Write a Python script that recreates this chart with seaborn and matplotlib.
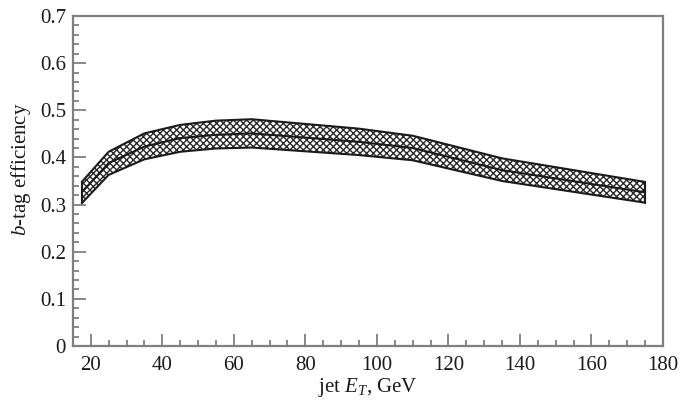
import matplotlib
matplotlib.use("Agg")
import matplotlib.pyplot as plt
from matplotlib.ticker import MultipleLocator, FuncFormatter
import numpy as np
import pandas as pd
import seaborn as sns

# Jet transverse energy (GeV) and b-tag efficiency band
jet_et = [17.5, 25, 35, 45, 55, 65, 80, 95, 110, 135, 175]
eff_central = [0.326, 0.388, 0.423, 0.441, 0.448, 0.451, 0.442, 0.433, 0.420, 0.373, 0.326]
eff_upper = [0.348, 0.412, 0.451, 0.469, 0.478, 0.481, 0.471, 0.461, 0.446, 0.398, 0.348]
eff_lower = [0.303, 0.363, 0.396, 0.412, 0.419, 0.421, 0.413, 0.405, 0.394, 0.350, 0.304]

x_ticks = [20, 40, 60, 80, 100, 120, 140, 160, 180]
y_ticks = [0, 0.1, 0.2, 0.3, 0.4, 0.5, 0.6, 0.7]

sns.set_theme(style="ticks")
plt.rcParams["font.family"] = ["Liberation Serif", "DejaVu Serif"]
plt.rcParams["mathtext.fontset"] = "custom"
plt.rcParams["mathtext.rm"] = "Liberation Serif"
plt.rcParams["mathtext.it"] = "Liberation Serif:italic"
plt.rcParams["hatch.linewidth"] = 1.0

df = pd.DataFrame({"et": jet_et, "eff": eff_central,
                   "hi": eff_upper, "lo": eff_lower})

fig = plt.figure(figsize=(6.81, 4.05), dpi=100)
ax = fig.add_axes([0.107, 0.1457, 0.8666, 0.8148])

# hatched uncertainty band
ax.fill_between(df["et"], df["lo"], df["hi"], facecolor="white",
                edgecolor="#2a2a2a", hatch="xxxxx", linewidth=0)
line_col = "#1a1a1a"
sns.lineplot(data=df, x="et", y="hi", ax=ax, color=line_col, linewidth=1.5)
sns.lineplot(data=df, x="et", y="lo", ax=ax, color=line_col, linewidth=1.5)
sns.lineplot(data=df, x="et", y="eff", ax=ax, color=line_col, linewidth=1.5)
# closing edges at both ends of the band
ax.plot([jet_et[0]] * 2, [eff_lower[0], eff_upper[0]], color=line_col, linewidth=1.5)
ax.plot([jet_et[-1]] * 2, [eff_lower[-1], eff_upper[-1]], color=line_col, linewidth=1.5)

ax.set_xlim(15, 180)
ax.set_ylim(0, 0.7)
ax.set_xticks(x_ticks)
ax.set_yticks(y_ticks)
ax.xaxis.set_minor_locator(MultipleLocator(5))
ax.yaxis.set_minor_locator(MultipleLocator(0.02))
ax.yaxis.set_major_formatter(FuncFormatter(lambda v, p: f"{v:g}"))

spine_col = "#7f7f7f"
for s in ax.spines.values():
    s.set_visible(True)
    s.set_color(spine_col)
    s.set_linewidth(1.6)

ax.tick_params(which="both", direction="in", color=spine_col, width=1.3,
               labelsize=15, labelcolor="#1a1a1a", top=False, right=False)
ax.tick_params(which="major", length=9)
ax.tick_params(which="minor", length=4)
ax.tick_params(axis="x", which="major", pad=7)
ax.tick_params(axis="y", which="major", pad=5)

ax.set_xlabel(r"jet $E_T$, GeV", fontsize=15, color="#1a1a1a", labelpad=1)
ax.set_ylabel(r"$b$-tag efficiency", fontsize=15, color="#1a1a1a")
ax.yaxis.set_label_coords(-0.068, 0.535)

fig.savefig("out.png", dpi=100)
